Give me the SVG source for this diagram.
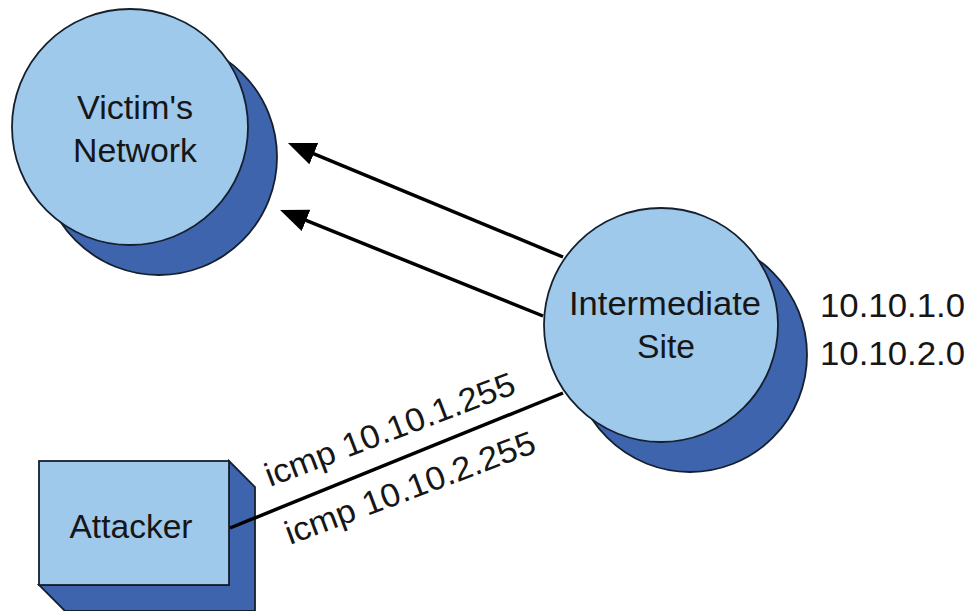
<svg xmlns="http://www.w3.org/2000/svg" width="968" height="611" viewBox="0 0 968 611">
  <style>
    .light { fill: #9ec9eb; stroke: #15202e; stroke-width: 1.8; }
    .dark { fill: #3f64ae; stroke: #15202e; stroke-width: 1.8; }
    .lbl { font-family: "Liberation Sans", Arial, sans-serif; font-size: 33px; fill: #161616; }
    .conn { stroke: #000; stroke-width: 3.5; fill: none; }
  </style>
  <defs>
    <marker id="arrow" markerUnits="userSpaceOnUse" markerWidth="30" markerHeight="25" refX="22" refY="11.5" orient="auto">
      <path d="M0,0 L28,11.5 L0,23 z" fill="#000"/>
    </marker>
  </defs>
  <rect width="968" height="611" fill="#fff"/>

  <g id="victim">
    <circle class="dark" cx="159" cy="157" r="118"/>
    <circle class="light" cx="130" cy="127" r="118"/>
    <text class="lbl" x="135" y="119" text-anchor="middle" textLength="116" lengthAdjust="spacingAndGlyphs">Victim's</text>
    <text class="lbl" x="135" y="162" text-anchor="middle" textLength="124" lengthAdjust="spacingAndGlyphs">Network</text>
  </g>

  <g id="intermediate">
    <circle class="dark" cx="690" cy="355" r="117"/>
    <circle class="light" cx="661" cy="325" r="117"/>
    <text class="lbl" x="665" y="315" text-anchor="middle" textLength="192" lengthAdjust="spacingAndGlyphs">Intermediate</text>
    <text class="lbl" x="666" y="358" text-anchor="middle" textLength="58" lengthAdjust="spacingAndGlyphs">Site</text>
  </g>

  <g id="attacker">
    <polygon class="dark" points="229,461 255,487 255,611 65,611 39,585 229,585"/>
    <rect class="light" x="39" y="461" width="190" height="124"/>
    <text class="lbl" x="131" y="538" text-anchor="middle" textLength="123" lengthAdjust="spacingAndGlyphs">Attacker</text>
  </g>

  <g id="subnets">
    <text class="lbl" x="820" y="317" textLength="145" lengthAdjust="spacingAndGlyphs">10.10.1.0</text>
    <text class="lbl" x="820" y="365" textLength="145" lengthAdjust="spacingAndGlyphs">10.10.2.0</text>
  </g>

  <g id="connectors">
    <line class="conn" x1="563" y1="257" x2="293.5" y2="145.3" marker-end="url(#arrow)"/>
    <line class="conn" x1="543" y1="316" x2="285.6" y2="212.2" marker-end="url(#arrow)"/>
    <line class="conn" x1="230" y1="528" x2="563" y2="393"/>
    <text class="lbl" x="270" y="487" transform="rotate(-20.8 270 487)" textLength="265" lengthAdjust="spacingAndGlyphs">icmp 10.10.1.255</text>
    <text class="lbl" x="290" y="545" transform="rotate(-20.6 290 545)" textLength="265" lengthAdjust="spacingAndGlyphs">icmp 10.10.2.255</text>
  </g>
</svg>
